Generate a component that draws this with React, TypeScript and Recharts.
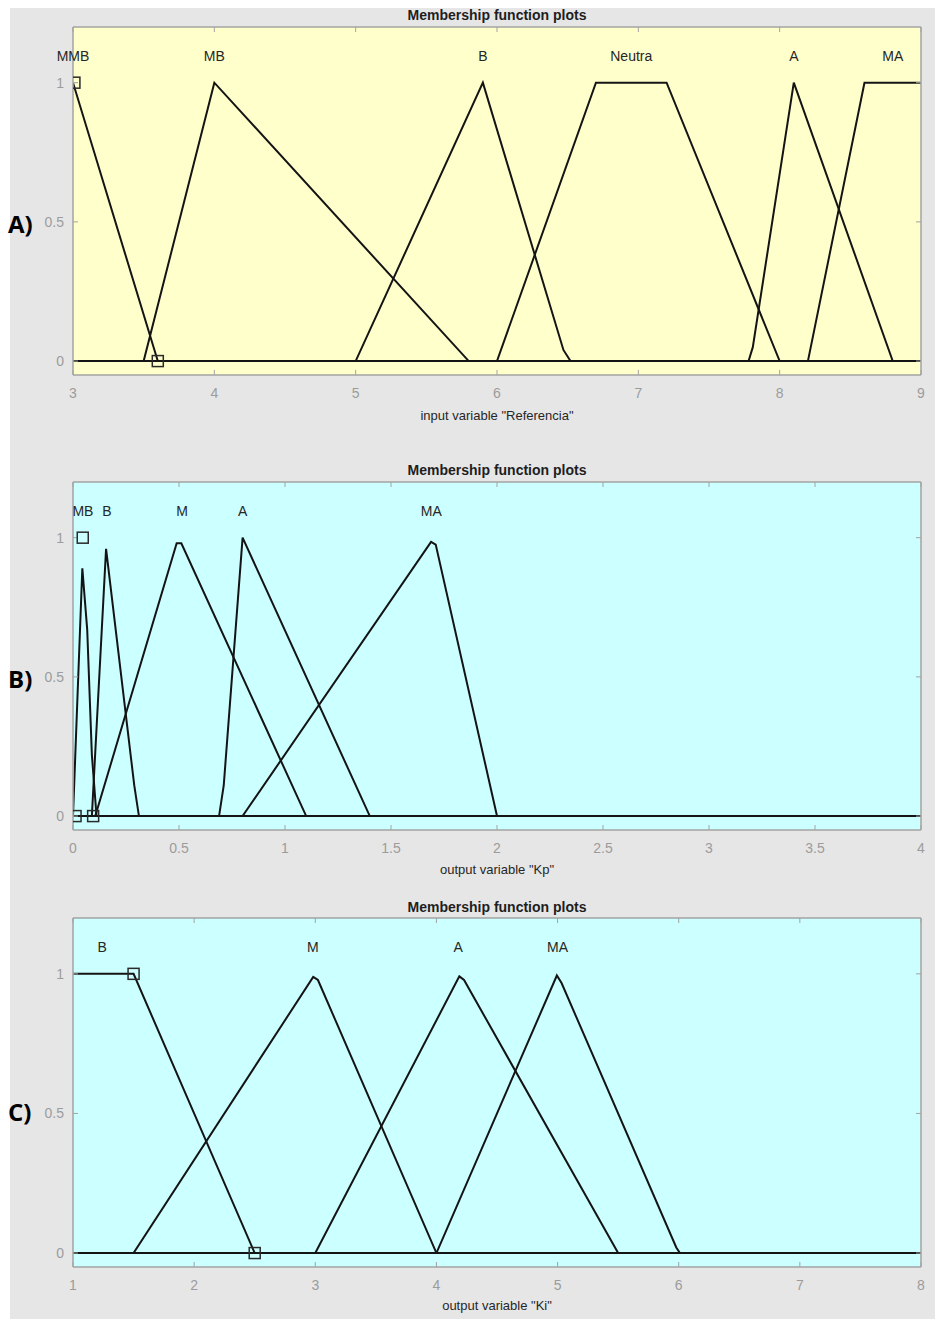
import React from 'react';
import { ComposedChart, Line, Scatter, XAxis, YAxis, CartesianGrid } from 'recharts';

// ---------- Panel A: input variable "Referencia" ----------
const refTicks = [3, 4, 5, 6, 7, 8, 9];
const refMMB = [{ x: 3, y: 1 }, { x: 3.6, y: 0 }, { x: 9, y: 0 }];
const refMB = [{ x: 3, y: 0 }, { x: 3.5, y: 0 }, { x: 4, y: 1 }, { x: 5.8, y: 0 }, { x: 9, y: 0 }];
const refB = [{ x: 3, y: 0 }, { x: 5, y: 0 }, { x: 5.9, y: 1 }, { x: 6.47, y: 0.04 }, { x: 6.52, y: 0 }, { x: 9, y: 0 }];
const refNeutra = [{ x: 3, y: 0 }, { x: 6, y: 0 }, { x: 6.7, y: 1 }, { x: 7.2, y: 1 }, { x: 8, y: 0 }, { x: 9, y: 0 }];
const refA = [{ x: 3, y: 0 }, { x: 7.78, y: 0 }, { x: 7.81, y: 0.05 }, { x: 8.1, y: 1 }, { x: 8.8, y: 0 }, { x: 9, y: 0 }];
const refMA = [{ x: 3, y: 0 }, { x: 8.2, y: 0 }, { x: 8.6, y: 1 }, { x: 9, y: 1 }];
const refLabels = [
  { x: 3, y: 1.095, name: 'MMB' },
  { x: 4, y: 1.095, name: 'MB' },
  { x: 5.9, y: 1.095, name: 'B' },
  { x: 6.95, y: 1.095, name: 'Neutra' },
  { x: 8.1, y: 1.095, name: 'A' },
  { x: 8.8, y: 1.095, name: 'MA' },
];
const refSquares = [{ x: 3.01, y: 1 }, { x: 3.6, y: 0 }];

// ---------- Panel B: output variable "Kp" ----------
const kpTicks = [0, 0.5, 1, 1.5, 2, 2.5, 3, 3.5, 4];
const kpMB = [{ x: 0, y: 0 }, { x: 0.044, y: 0.89 }, { x: 0.067, y: 0.67 }, { x: 0.089, y: 0.22 }, { x: 0.111, y: 0 }, { x: 4, y: 0 }];
const kpB = [{ x: 0, y: 0 }, { x: 0.089, y: 0 }, { x: 0.156, y: 0.96 }, { x: 0.289, y: 0.11 }, { x: 0.311, y: 0 }, { x: 4, y: 0 }];
const kpM = [{ x: 0, y: 0 }, { x: 0.105, y: 0 }, { x: 0.489, y: 0.98 }, { x: 0.511, y: 0.98 }, { x: 1.1, y: 0 }, { x: 4, y: 0 }];
const kpA = [{ x: 0, y: 0 }, { x: 0.689, y: 0 }, { x: 0.711, y: 0.11 }, { x: 0.8, y: 1 }, { x: 1.4, y: 0 }, { x: 4, y: 0 }];
const kpMA = [{ x: 0, y: 0 }, { x: 0.8, y: 0 }, { x: 1.689, y: 0.985 }, { x: 1.711, y: 0.975 }, { x: 2, y: 0 }, { x: 4, y: 0 }];
const kpLabels = [
  { x: 0.047, y: 1.095, name: 'MB' },
  { x: 0.16, y: 1.095, name: 'B' },
  { x: 0.515, y: 1.095, name: 'M' },
  { x: 0.8, y: 1.095, name: 'A' },
  { x: 1.69, y: 1.095, name: 'MA' },
];
const kpSquares = [{ x: 0.012, y: 0 }, { x: 0.046, y: 1 }, { x: 0.095, y: 0 }];

// ---------- Panel C: output variable "Ki" ----------
const kiTicks = [1, 2, 3, 4, 5, 6, 7, 8];
const kiB = [{ x: 1, y: 1 }, { x: 1.5, y: 1 }, { x: 2.5, y: 0 }, { x: 8, y: 0 }];
const kiM = [{ x: 1, y: 0 }, { x: 1.5, y: 0 }, { x: 2.983, y: 0.989 }, { x: 3.022, y: 0.978 }, { x: 4, y: 0 }, { x: 8, y: 0 }];
const kiA = [{ x: 1, y: 0 }, { x: 3, y: 0 }, { x: 4.189, y: 0.991 }, { x: 4.228, y: 0.978 }, { x: 5.5, y: 0 }, { x: 8, y: 0 }];
const kiMA = [{ x: 1, y: 0 }, { x: 4, y: 0 }, { x: 4.994, y: 0.994 }, { x: 5.033, y: 0.967 }, { x: 5.98, y: 0.02 }, { x: 6.01, y: 0 }, { x: 8, y: 0 }];
const kiLabels = [
  { x: 1.24, y: 1.095, name: 'B' },
  { x: 2.98, y: 1.095, name: 'M' },
  { x: 4.18, y: 1.095, name: 'A' },
  { x: 5.0, y: 1.095, name: 'MA' },
];
const kiSquares = [{ x: 1.5, y: 1 }, { x: 2.5, y: 0 }];

const yTicks = [0, 0.5, 1];
const yDomain: [number, number] = [-0.05, 1.2];

const FONT = '"Liberation Sans", Arial, Helvetica, sans-serif';
const AXIS_GRAY = '#a3a3a3';
const TICK_GRAY = '#9c9c9c';
const LINE = '#141414';

const LabelShape = (props: any) => {
  const { cx, cy, payload } = props;
  return (
    <text x={cx} y={cy} textAnchor="middle" dominantBaseline="central" fontSize={14} fill="#262626" fontFamily={FONT}>
      {payload.name}
    </text>
  );
};

const SquareShape = (props: any) => {
  const { cx, cy } = props;
  return <rect x={cx - 5.5} y={cy - 5.5} width={11} height={11} fill="none" stroke="#2a2a2a" strokeWidth={1.5} />;
};

type PanelProps = {
  top: number;
  height: number;
  mt: number;
  mb: number;
  bg: string;
  ticks: number[];
  domain: [number, number];
  series: { x: number; y: number }[][];
  labels: { x: number; y: number; name: string }[];
  squares: { x: number; y: number }[];
};

const Panel = ({ top, height, mt, mb, bg, ticks, domain, series, labels, squares }: PanelProps) => (
  <div style={{ position: 'absolute', left: 0, top, width: 935, height }}>
    <ComposedChart width={935} height={height} margin={{ top: mt, right: 0, bottom: mb, left: 0 }}>
      <CartesianGrid fill={bg} fillOpacity={1} horizontal={false} vertical={false} />
      <XAxis
        dataKey="x"
        type="number"
        domain={domain}
        ticks={ticks}
        allowDataOverflow
        height={40}
        tickSize={-5}
        tickMargin={18}
        axisLine={{ stroke: AXIS_GRAY, strokeWidth: 1.5 }}
        tickLine={{ stroke: AXIS_GRAY }}
        tick={{ fill: TICK_GRAY, fontSize: 14, fontFamily: FONT }}
        interval={0}
      />
      <XAxis
        xAxisId="top"
        orientation="top"
        dataKey="x"
        type="number"
        domain={domain}
        ticks={ticks}
        height={1}
        tickSize={-5}
        tickFormatter={() => ''}
        axisLine={{ stroke: AXIS_GRAY, strokeWidth: 1.5 }}
        tickLine={{ stroke: AXIS_GRAY }}
        interval={0}
      />
      <YAxis
        dataKey="y"
        type="number"
        domain={yDomain}
        ticks={yTicks}
        allowDataOverflow
        width={73}
        tickSize={-5}
        tickMargin={14}
        axisLine={{ stroke: AXIS_GRAY, strokeWidth: 1.5 }}
        tickLine={{ stroke: AXIS_GRAY }}
        tick={{ fill: TICK_GRAY, fontSize: 14, fontFamily: FONT }}
        interval={0}
      />
      <YAxis
        yAxisId="right"
        orientation="right"
        dataKey="y"
        type="number"
        domain={yDomain}
        ticks={yTicks}
        width={14}
        tickSize={-5}
        tickFormatter={() => ''}
        axisLine={{ stroke: AXIS_GRAY, strokeWidth: 1.5 }}
        tickLine={{ stroke: AXIS_GRAY }}
        interval={0}
      />
      {series.map((d, i) => (
        <Line
          key={i}
          data={d}
          dataKey="y"
          type="linear"
          stroke={LINE}
          strokeWidth={2}
          dot={false}
          activeDot={false}
          isAnimationActive={false}
        />
      ))}
      <Scatter
        data={labels}
        dataKey="y"
        xAxisId="top"
        yAxisId="right"
        shape={LabelShape}
        isAnimationActive={false}
      />
      <Scatter data={squares} dataKey="y" shape={SquareShape} isAnimationActive={false} />
    </ComposedChart>
  </div>
);

const textStyle = (top: number, size: number, bold: boolean, color: string): React.CSSProperties => ({
  position: 'absolute',
  left: 73,
  width: 848,
  top,
  textAlign: 'center',
  fontSize: size,
  fontWeight: bold ? 700 : 400,
  color,
  fontFamily: FONT,
  lineHeight: '16px',
  whiteSpace: 'pre',
});

const sideLabel = (top: number): React.CSSProperties => ({
  position: 'absolute',
  left: 8,
  top,
  fontSize: 24,
  fontWeight: 700,
  color: '#000',
  fontFamily: '"Open Sans", "Liberation Sans", Arial, sans-serif',
  lineHeight: '28px',
});

export default function App() {
  return (
    <div style={{ position: 'absolute', left: 0, top: 0, width: 935, height: 1319, background: '#ffffff', overflow: 'hidden' }}>
      <div style={{ position: 'absolute', left: 10, top: 8, width: 925, height: 1311, background: '#e6e6e6' }} />

      <div style={textStyle(7, 14, true, '#1e1e1e')}>Membership function plots</div>
      <Panel
        top={0}
        height={440}
        mt={26}
        mb={25}
        bg="#ffffcc"
        ticks={refTicks}
        domain={[3, 9]}
        series={[refMMB, refMB, refB, refNeutra, refA, refMA]}
        labels={refLabels}
        squares={refSquares}
      />
      <div style={textStyle(408, 13, false, '#262626')}>input variable "Referencia"</div>
      <div style={sideLabel(210)}>A)</div>

      <div style={textStyle(462, 14, true, '#1e1e1e')}>Membership function plots</div>
      <Panel
        top={440}
        height={445}
        mt={41}
        mb={15}
        bg="#ccffff"
        ticks={kpTicks}
        domain={[0, 4]}
        series={[kpMB, kpB, kpM, kpA, kpMA]}
        labels={kpLabels}
        squares={kpSquares}
      />
      <div style={textStyle(862, 13, false, '#262626')}>output variable "Kp"</div>
      <div style={sideLabel(665)}>B)</div>

      <div style={textStyle(899, 14, true, '#1e1e1e')}>Membership function plots</div>
      <Panel
        top={885}
        height={434}
        mt={32}
        mb={12}
        bg="#ccffff"
        ticks={kiTicks}
        domain={[1, 8]}
        series={[kiB, kiM, kiA, kiMA]}
        labels={kiLabels}
        squares={kiSquares}
      />
      <div style={textStyle(1298, 13, false, '#262626')}>output variable "Ki"</div>
      <div style={sideLabel(1098)}>C)</div>
    </div>
  );
}
